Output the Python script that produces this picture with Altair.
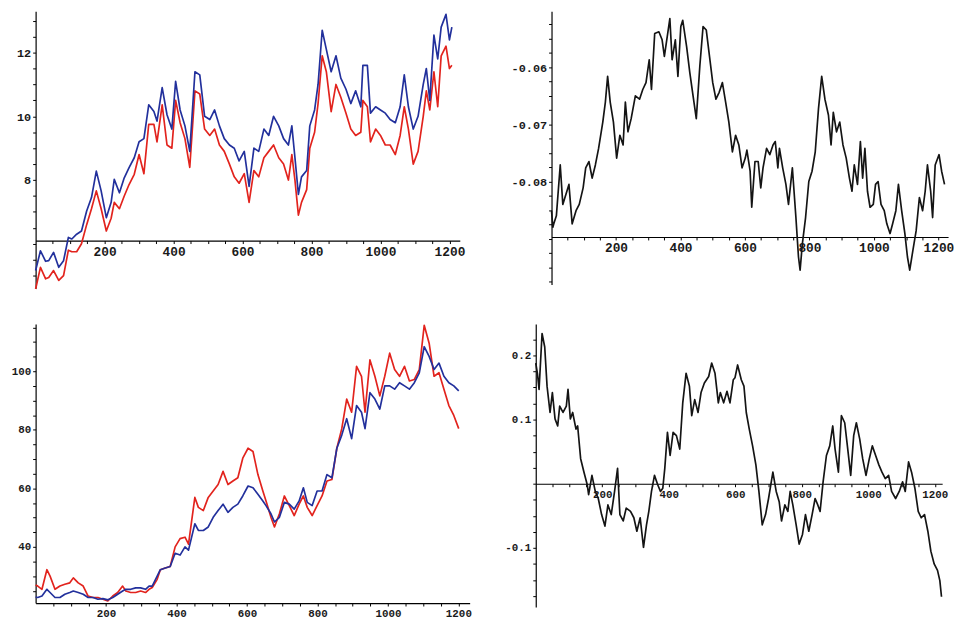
import altair as alt
import pandas as pd

# ---------------- data ----------------
tl_x = [0, 14, 29, 38, 52, 67, 81, 95, 105, 119, 133, 148, 162, 176, 190, 205, 219, 228, 243, 257,
        271, 286, 300, 314, 328, 343, 352, 367, 381, 395, 406, 419, 433, 447, 462, 476, 490, 505, 519, 533,
        547, 562, 576, 590, 605, 619, 633, 647, 662, 676, 690, 705, 719, 733, 743, 752, 762, 771, 786, 795,
        809, 819, 831, 843, 857, 871, 885, 900, 914, 928, 943, 949, 962, 971, 986, 1000, 1014, 1028, 1043, 1057,
        1069, 1081, 1095, 1109, 1124, 1133, 1143, 1155, 1166, 1176, 1190, 1200, 1207]
tl_blue = [5.16, 5.78, 5.45, 5.47, 5.73, 5.26, 5.47, 6.2, 6.15, 6.3, 6.4, 7.03, 7.45, 8.28, 7.66, 6.82, 7.3, 8.02, 7.6, 8.07,
           8.39, 8.7, 9.2, 9.3, 10.36, 10.15, 9.85, 10.9, 10.05, 9.6, 11.1, 10.2, 9.7, 8.9, 11.4, 11.3, 10.0, 9.9, 10.2, 9.7,
           9.3, 9.1, 9.0, 8.6, 8.9, 7.8, 9.0, 8.9, 9.6, 9.4, 10.0, 9.7, 9.3, 9.1, 9.7, 8.7, 7.55, 8.1, 8.3, 9.7,
           10.2, 11.0, 12.7, 12.1, 11.4, 11.9, 11.2, 10.85, 10.4, 10.8, 10.3, 11.6, 11.6, 10.1, 10.3, 10.2, 10.1, 9.9, 9.8, 10.3,
           11.3, 10.3, 9.6, 10.0, 11.0, 11.5, 10.5, 12.55, 11.8, 12.8, 13.2, 12.4, 12.8]
tl_red = [4.58, 5.26, 4.9, 4.94, 5.16, 4.85, 5.0, 5.8, 5.75, 5.75, 6.0, 6.6, 7.1, 7.66, 7.1, 6.4, 6.8, 7.3, 7.1, 7.5,
          7.86, 8.18, 8.8, 8.2, 9.75, 9.75, 9.2, 10.36, 9.1, 9.0, 10.5, 9.8, 9.3, 8.4, 10.8, 10.7, 9.6, 9.4, 9.6, 9.1,
          8.9, 8.5, 8.1, 7.9, 8.2, 7.3, 8.3, 8.1, 8.7, 8.9, 9.1, 8.7, 8.5, 8.0, 8.8, 8.0, 6.9, 7.3, 7.7, 9.0,
          9.5, 10.4, 11.9, 11.4, 10.15, 11.0, 10.6, 10.1, 9.6, 9.4, 9.5, 10.5, 10.3, 9.2, 9.6, 9.4, 9.1, 9.1, 8.8, 9.4,
          10.3, 9.6, 8.5, 8.9, 10.0, 10.8, 10.2, 11.4, 10.3, 11.9, 12.2, 11.5, 11.6]

tr_x = [0, 4, 7, 15, 27, 35, 45, 54, 64, 76, 86, 98, 106, 116, 126, 136, 146, 159, 167, 174,
        182, 192, 202, 212, 222, 229, 237, 247, 260, 273, 283, 293, 303, 310, 320, 333, 343, 350, 359, 367,
        374, 384, 392, 401, 407, 419, 429, 439, 449, 460, 470, 480, 490, 500, 510, 520, 530, 540, 550, 561,
        571, 581, 591, 601, 606, 616, 621, 631, 641, 649, 656, 667, 677, 687, 694, 702, 707, 717, 727, 735,
        747, 758, 766, 771, 778, 788, 798, 808, 818, 828, 838, 848, 859, 867, 874, 884, 894, 904, 914, 924,
        932, 939, 949, 958, 965, 972, 980, 988, 998, 1005, 1013, 1022, 1032, 1040, 1050, 1058, 1068, 1076, 1086, 1096,
        1104, 1111, 1121, 1131, 1141, 1151, 1159, 1166, 1176, 1182, 1190, 1202, 1210, 1219]
tr_y = [-0.0851, -0.0880, -0.0874, -0.0860, -0.0771, -0.0840, -0.0822, -0.0805, -0.0874, -0.0851,
        -0.0840, -0.0811, -0.0776, -0.0765, -0.0794, -0.0771, -0.0742, -0.0696, -0.0661, -0.0616,
        -0.0661, -0.0696, -0.0759, -0.0719, -0.0736, -0.0661, -0.0713, -0.0690, -0.0650, -0.0656,
        -0.0639, -0.0627, -0.0587, -0.0639, -0.0541, -0.0538, -0.0552, -0.0581, -0.0546, -0.0515,
        -0.0587, -0.0552, -0.0616, -0.0529, -0.0518, -0.0564, -0.0610, -0.0650, -0.0690, -0.0598,
        -0.0529, -0.0535, -0.0581, -0.0627, -0.0656, -0.0644, -0.0627, -0.0661, -0.0696, -0.0748,
        -0.0719, -0.0736, -0.0776, -0.0759, -0.0745, -0.0782, -0.0845, -0.0765, -0.0765, -0.0811,
        -0.0776, -0.0742, -0.0753, -0.0736, -0.0730, -0.0776, -0.0742, -0.0776, -0.0805, -0.0840,
        -0.0776, -0.0863, -0.0932, -0.0955, -0.0909, -0.0863, -0.0800, -0.0782, -0.0748, -0.0673,
        -0.0616, -0.0656, -0.0684, -0.0736, -0.0679, -0.0713, -0.0696, -0.0736, -0.0759, -0.0794,
        -0.0817, -0.0771, -0.0805, -0.0730, -0.0794, -0.0742, -0.0817, -0.0845, -0.0840, -0.0805,
        -0.0800, -0.0840, -0.0851, -0.0874, -0.0891, -0.0874, -0.0851, -0.0805, -0.0851, -0.0891,
        -0.0932, -0.0955, -0.0920, -0.0886, -0.0828, -0.0851, -0.0817, -0.0771, -0.0817, -0.0863,
        -0.0771, -0.0753, -0.0782, -0.0805]

bl_x = [0, 6, 18, 32, 41, 55, 69, 83, 97, 107, 121, 135, 149, 163, 177, 191, 205, 219, 233, 247,
        256, 270, 284, 298, 312, 322, 331, 345, 354, 368, 382, 396, 410, 424, 434, 443, 452, 462, 476, 490,
        504, 518, 532, 546, 560, 574, 588, 603, 617, 631, 645, 654, 668, 678, 692, 706, 720, 734, 748, 760,
        771, 785, 799, 813, 827, 841, 855, 869, 883, 897, 911, 925, 935, 949, 963, 977, 991, 1005, 1019, 1033,
        1047, 1061, 1075, 1089, 1103, 1117, 1131, 1145, 1159, 1173, 1187, 1201]
bl_blue = [22.8, 22.7, 23.2, 25.5, 24.4, 22.7, 22.7, 23.8, 24.4, 24.9, 24.4, 23.8, 22.7, 22.7, 22.1, 22.3, 21.9, 22.7, 23.8, 24.9,
           25.5, 25.5, 26.0, 26.0, 25.5, 26.6, 26.6, 30.0, 32.2, 32.8, 33.3, 37.8, 37.2, 40.0, 38.9, 43.4, 47.9, 45.6, 45.6, 46.8,
           50.1, 52.4, 54.6, 51.8, 53.5, 54.6, 57.4, 60.8, 60.2, 58.0, 55.7, 54.1, 51.3, 48.5, 50.1, 55.2, 54.6, 52.9, 55.7, 60.2,
           55.2, 54.1, 59.1, 59.1, 64.7, 63.6, 73.7, 78.2, 83.8, 77.0, 88.3, 86.0, 80.4, 92.7, 90.5, 87.1, 95.0, 95.0, 93.9, 96.1,
           95.0, 93.9, 96.1, 99.5, 108.4, 105.1, 100.6, 102.8, 98.3, 96.1, 95.0, 93.3]
bl_red = [27.0, 26.6, 25.5, 32.2, 30.0, 25.5, 26.6, 27.2, 27.7, 29.4, 27.7, 26.6, 23.2, 22.7, 22.7, 22.1, 21.5, 23.2, 24.4, 26.6,
          24.9, 24.4, 24.4, 24.9, 24.4, 25.5, 26.1, 28.9, 32.2, 32.8, 33.3, 40.0, 42.8, 43.3, 40.9, 49.0, 56.9, 53.5, 52.4, 56.9,
          59.1, 61.3, 65.8, 61.3, 62.5, 63.6, 70.3, 73.7, 72.6, 64.7, 59.1, 55.7, 50.1, 46.8, 51.3, 57.4, 54.1, 50.7, 54.6, 57.4,
          53.5, 50.7, 54.1, 57.4, 62.5, 63.0, 73.7, 80.4, 90.5, 86.0, 101.7, 98.3, 86.0, 103.9, 98.3, 91.6, 98.3, 106.2, 100.6, 98.3,
          101.7, 96.7, 97.2, 100.6, 115.7, 109.6, 98.3, 99.5, 93.9, 88.3, 84.9, 80.4]

br_x = [0, 5, 10, 19, 27, 34, 43, 50, 58, 66, 72, 82, 92, 97, 104, 111, 121, 126, 135, 145,
        155, 159, 169, 179, 188, 198, 208, 217, 227, 237, 246, 253, 263, 272, 285, 295, 304, 314, 324, 333,
        340, 348, 357, 367, 375, 382, 388, 396, 404, 413, 423, 433, 442, 452, 462, 469, 478, 488, 497, 507,
        520, 529, 539, 549, 555, 565, 575, 584, 594, 599, 607, 618, 626, 633, 642, 652, 662, 671, 681, 691,
        700, 713, 723, 732, 739, 749, 758, 765, 773, 783, 792, 802, 811, 821, 831, 840, 848, 855, 864, 874,
        884, 893, 900, 910, 919, 929, 937, 947, 956, 964, 974, 983, 993, 1003, 1012, 1022, 1032, 1041, 1051, 1061,
        1070, 1082, 1093, 1103, 1111, 1121, 1130, 1140, 1150, 1159, 1169, 1179, 1188, 1198, 1208, 1215, 1220]
br_y = [0.188, 0.172, 0.147, 0.234, 0.213, 0.152, 0.111, 0.142, 0.101, 0.090, 0.121, 0.111, 0.121, 0.147, 0.101, 0.111,
        0.085, 0.090, 0.039, 0.018, -0.002, -0.017, 0.013, -0.012, -0.023, -0.048, -0.066, -0.033, -0.048, -0.012,
        0.024, -0.048, -0.058, -0.038, -0.043, -0.053, -0.074, -0.053, -0.099, -0.064, -0.043, -0.012, 0.013, -0.002,
        -0.012, -0.007, 0.024, 0.080, 0.044, 0.080, 0.075, 0.054, 0.126, 0.172, 0.152, 0.106, 0.131, 0.111, 0.142,
        0.157, 0.167, 0.188, 0.172, 0.126, 0.142, 0.126, 0.144, 0.126, 0.162, 0.165, 0.185, 0.162, 0.152, 0.111,
        0.085, 0.059, 0.029, -0.012, -0.064, -0.048, -0.023, 0.018, -0.012, -0.028, -0.058, -0.033, -0.043, -0.012,
        -0.033, -0.064, -0.094, -0.079, -0.048, -0.074, -0.048, -0.023, -0.033, -0.043, 0.003, 0.044, 0.059, 0.090,
        0.054, 0.018, 0.106, 0.095, 0.059, 0.013, 0.075, 0.095, 0.070, 0.039, 0.013, 0.039, 0.059, 0.044, 0.029,
        0.018, 0.008, 0.013, -0.012, -0.023, -0.012, 0.003, -0.012, 0.034, 0.018, -0.007, -0.043, -0.053, -0.048,
        -0.074, -0.105, -0.125, -0.135, -0.151, -0.176]

x_major = [200, 400, 600, 800, 1000, 1200]
x_minor = [50 * i for i in range(1, 25)]

BLUE = "#22309c"
RED = "#e2231d"
BLACK = "#141414"
MONO = "Liberation Mono"


def label_expr(majors, texts):
    s = ""
    for v, t in zip(majors, texts):
        s += f"abs(datum.value - ({v})) < 1e-7 ? '{t}' : "
    return s + "''"


def axes(ydom, cross, height, xsize, ysize, ypad, y_ticks, y_major, y_text):
    off = -height * (cross - ydom[0]) / (ydom[1] - ydom[0])
    common = dict(title=None, grid=False, labelFont=MONO, labelFontWeight="bold",
                  labelColor="#1a1a1a", tickSize=3, tickColor="black", domainColor="black",
                  domainWidth=1.2, tickWidth=1, labelFlush=False, labelOverlap=False)
    ax_x = alt.Axis(values=x_minor, labelExpr=label_expr(x_major, [str(v) for v in x_major]),
                    offset=off, labelFontSize=xsize, labelPadding=2, **common)
    ax_y = alt.Axis(values=y_ticks, labelExpr=label_expr(y_major, y_text),
                    labelFontSize=ysize, labelPadding=ypad, **common)
    return ax_x, ax_y


def panel(df, series, colors, xdom, ydom, cross, width, height, xsize, ysize, ypad,
          y_ticks, y_major, y_text, sw):
    ax_x, ax_y = axes(ydom, cross, height, xsize, ysize, ypad, y_ticks, y_major, y_text)
    xenc = alt.X("x:Q", scale=alt.Scale(domain=xdom, nice=False, zero=False), axis=ax_x)
    layers = []
    for s, c in zip(series, colors):
        layers.append(
            alt.Chart(df).mark_line(color=c, strokeWidth=sw, strokeJoin="round").encode(
                x=xenc,
                y=alt.Y(f"{s}:Q", scale=alt.Scale(domain=ydom, nice=False, zero=False), axis=ax_y),
            )
        )
    return alt.layer(*layers).properties(width=width, height=height)


# top-left
tl_df = pd.DataFrame({"x": tl_x, "blue": tl_blue, "red": tl_red})
tl = panel(tl_df, ["red", "blue"], [RED, BLUE], [0, 1230], [4.6, 13.3], 6.1, 430, 281, 13, 12, 2,
           [5 + 0.5 * i for i in range(17)], [8, 10, 12], ["8", "10", "12"], 1.7)

# top-right
tr_df = pd.DataFrame({"x": tr_x, "v": tr_y})
tr = panel(tr_df, ["v"], [BLACK], [0, 1230], [-0.098, -0.0502], -0.0897, 402, 277, 13, 12, 2,
           [round(-0.0975 + 0.0025 * i, 4) for i in range(19)], [-0.06, -0.07, -0.08],
           ["-0.06", "-0.07", "-0.08"], 1.7)

# bottom-left
bl_df = pd.DataFrame({"x": bl_x, "blue": bl_blue, "red": bl_red})
bl = panel(bl_df, ["red", "blue"], [RED, BLUE], [0, 1232], [20.8, 116.2], 20.8, 440, 283, 11, 11, 2,
           [25 + 5 * i for i in range(19)], [40, 60, 80, 100], ["40", "60", "80", "100"], 1.7)

# bottom-right
br_df = pd.DataFrame({"x": br_x, "v": br_y})
br = panel(br_df, ["v"], [BLACK], [0, 1222], [-0.192, 0.249], 0.0, 412, 287, 11, 11, 2,
           [round(-0.175 + 0.025 * i, 3) for i in range(17)], [0.2, 0.1, -0.1],
           ["0.2", "0.1", "-0.1"], 1.7)

chart = alt.vconcat(
    alt.hconcat(tl, tr, spacing=45),
    alt.hconcat(bl, br, spacing=33),
    spacing=31,
).properties(
    padding={"left": 3, "top": -1, "right": 0, "bottom": 0},
    background="white",
).configure_view(stroke=None, strokeWidth=0)

chart.save("out.html", embed_options={"renderer": "svg", "actions": False})
